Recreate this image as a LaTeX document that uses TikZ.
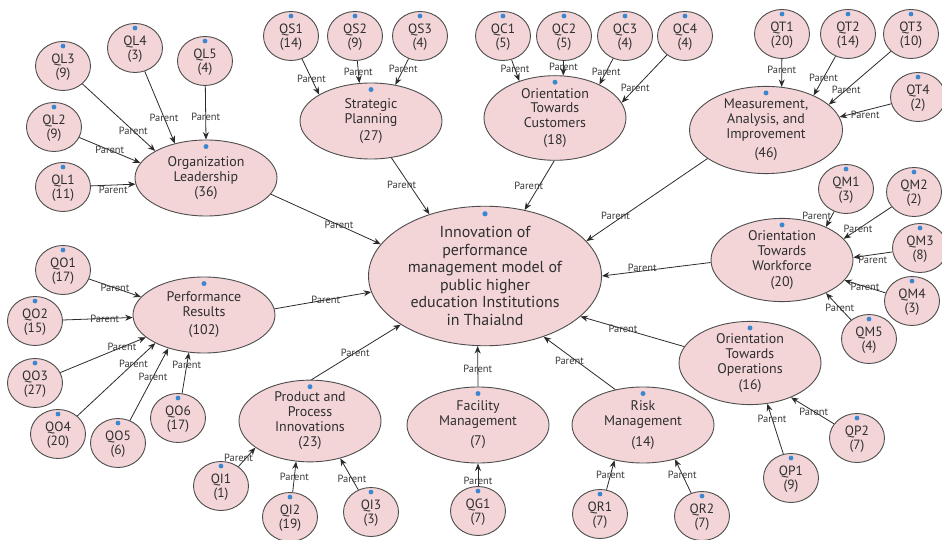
\documentclass[tikz,border=0pt]{standalone}
\usepackage{fontspec}
\setmainfont{PT Sans}
\usetikzlibrary{shapes.geometric,arrows.meta}
\definecolor{pinkc}{HTML}{F3D5D8}
\definecolor{bordc}{HTML}{4D4D4D}
\definecolor{txtc}{HTML}{2E2E2E}
\definecolor{linec}{HTML}{2B2B2B}
\definecolor{dotc}{HTML}{3B86D0}
\definecolor{labc}{HTML}{3A3A3A}
\tikzset{
  sm/.style={ellipse, draw=bordc, fill=pinkc, line width=0.9pt, minimum width=55bp, minimum height=49bp, inner sep=0pt, align=center, text=txtc, font=\fontsize{13.5}{15}\selectfont},
  big/.style={sm, minimum width=142bp, minimum height=76bp, font=\fontsize{14}{15}\selectfont},
  edge/.style={draw=linec, line width=0.8pt, -{Stealth[length=7.5bp,width=6bp]}},
  lab/.style={font=\fontsize{10.5}{12}\selectfont, text=labc, inner sep=1pt},
}
\begin{document}
\begin{tikzpicture}[x=1bp,y=-1bp]
\useasboundingbox (0,0) rectangle (942,540);
\fill[white] (0,0) rectangle (942,540);

% Organization leadership
\node[sm] (QL3) at (63,66) {\rule{0pt}{12pt}QL3\\(9)};
\node[sm] (QL4) at (135,48) {\rule{0pt}{12pt}QL4\\(3)};
\node[sm] (QL5) at (205,61) {\rule{0pt}{12pt}QL5\\(4)};
\node[sm] (QL2) at (54,127) {\rule{0pt}{12pt}QL2\\(9)};
\node[sm] (QL1) at (63,187) {\rule{0pt}{12pt}QL1\\(11)};
\node[big] (OL) at (206,178) {Organization\\Leadership\\(36)};

% Strategic planning
\node[sm] (QS1) at (291,36) {\rule{0pt}{12pt}QS1\\(14)};
\node[sm] (QS2) at (355,36) {\rule{0pt}{12pt}QS2\\(9)};
\node[sm] (QS3) at (420,36) {\rule{0pt}{12pt}QS3\\(4)};
\node[big] (SP) at (371,121) {Strategic\\Planning\\[2pt](27)};

% Customers
\node[sm] (QC1) at (503,36) {\rule{0pt}{12pt}QC1\\(5)};
\node[sm] (QC2) at (564,36) {\rule{0pt}{12pt}QC2\\(5)};
\node[sm] (QC3) at (625,36) {\rule{0pt}{12pt}QC3\\(4)};
\node[sm] (QC4) at (685,36) {\rule{0pt}{12pt}QC4\\(4)};
\node[big] (OTC) at (555,118) {Orientation\\Towards\\Customers\\[2pt](18)};

% Measurement
\node[sm] (QT1) at (782,34) {\rule{0pt}{12pt}QT1\\(20)};
\node[sm] (QT2) at (848,34) {\rule{0pt}{12pt}QT2\\(14)};
\node[sm] (QT3) at (911,34) {\rule{0pt}{12pt}QT3\\(10)};
\node[sm] (QT4) at (918,97) {\rule{0pt}{12pt}QT4\\(2)};
\node[big, minimum width=153bp, minimum height=86bp] (MAI) at (766,130) {Measurement,\\Analysis, and\\Improvement\\[4pt](46)};

% Workforce
\node[sm] (QM1) at (846,189) {\rule{0pt}{12pt}QM1\\(3)};
\node[sm] (QM2) at (914,192) {\rule{0pt}{12pt}QM2\\(2)};
\node[sm] (QM3) at (920,248) {\rule{0pt}{12pt}QM3\\(8)};
\node[sm] (QM4) at (912,301) {\rule{0pt}{12pt}QM4\\(3)};
\node[sm] (QM5) at (869,339) {\rule{0pt}{12pt}QM5\\(4)};
\node[big] (OTW) at (782,260) {Orientation\\Towards\\Workforce\\[1pt](20)};

% Operations
\node[sm] (QP1) at (791,478) {\rule{0pt}{12pt}QP1\\(9)};
\node[sm] (QP2) at (857,438) {\rule{0pt}{12pt}QP2\\(7)};
\node[big] (OTO) at (750,363) {Orientation\\Towards\\Operations\\[1pt](16)};

% Risk
\node[sm] (QR1) at (600,514) {\rule{0pt}{12pt}QR1\\(7)};
\node[sm] (QR2) at (702,516) {\rule{0pt}{12pt}QR2\\(7)};
\node[big] (RM) at (643,425) {Risk\\Management\\[6pt](14)};

% Facility
\node[sm] (QG1) at (478,511) {\rule{0pt}{12pt}QG1\\(7)};
\node[big] (FM) at (478,425) {Facility\\Management\\[5pt](7)};

% Performance results
\node[sm] (QO1) at (63,270) {\rule{0pt}{12pt}QO1\\(17)};
\node[sm] (QO2) at (35,321) {\rule{0pt}{12pt}QO2\\(15)};
\node[sm] (QO3) at (35,383) {\rule{0pt}{12pt}QO3\\(27)};
\node[sm] (QO4) at (58,434) {\rule{0pt}{12pt}QO4\\(20)};
\node[sm] (QO5) at (118,443) {\rule{0pt}{12pt}QO5\\(6)};
\node[sm] (QO6) at (178,418) {\rule{0pt}{12pt}QO6\\(17)};
\node[big] (PR) at (204,315) {Performance\\Results\\[3pt](102)};

% Product and process
\node[sm] (QI1) at (221,486) {\rule{0pt}{12pt}QI1\\(1)};
\node[sm] (QI2) at (290,517) {\rule{0pt}{12pt}QI2\\(19)};
\node[sm] (QI3) at (371,512) {\rule{0pt}{12pt}QI3\\(3)};
\node[big] (PPI) at (310,421) {Product and\\Process\\Innovations\\(23)};

% Center
\node[big, minimum width=233bp, minimum height=126bp, font=\fontsize{16}{17.5}\selectfont] (C) at (485,276) {Innovation of\\performance\\management model of\\public higher\\education Institutions\\in Thaialnd};

% blue dots
\foreach \n in {QL1,QL2,QL3,QL4,QL5,QS1,QS2,QS3,QC1,QC2,QC3,QC4,QT1,QT2,QT3,QT4,QM1,QM2,QM3,QM4,QM5,QP1,QP2,QR1,QR2,QG1,QO1,QO2,QO3,QO4,QO5,QO6,QI1,QI2,QI3}
  \fill[dotc] ([yshift=-5bp]\n.north) circle[radius=2.4bp];
\foreach \n in {OL,SP,OTC,MAI,OTW,OTO,RM,FM,PR,PPI}
  \fill[dotc] ([yshift=-7bp]\n.north) circle[radius=2.5bp];
\fill[dotc] ([yshift=-8bp]C.north) circle[radius=2.6bp];

% child edges
\draw[edge] (QL1) -- node[lab,pos=.5,below]{Parent} (OL.185);
\draw[edge] (QL2) -- node[lab,pos=.5]{Parent} (OL.167);
\draw[edge] (QL3) -- node[lab,pos=.7]{Parent} (OL.152);
\draw[edge] (QL4) -- node[lab,pos=.64]{Parent} (OL.132);
\draw[edge] (QL5) -- node[lab,pos=.58]{Parent} (OL.90);

\draw[edge] (QS1) -- node[lab,pos=.55]{Parent} (SP.153);
\draw[edge] (QS2) -- node[lab,pos=.5]{Parent} (SP.107);
\draw[edge] (QS3) -- node[lab,pos=.4]{Parent} (SP.56);

\draw[edge] (QC1) -- node[lab,pos=.45]{Parent} (OTC.134);
\draw[edge] (QC2) -- node[lab,pos=.4]{Parent} (OTC.79);
\draw[edge] (QC3) -- node[lab,pos=.5]{Parent} (OTC.37);
\draw[edge] (QC4) -- node[lab,pos=.7]{Parent} (OTC.13);

\draw[edge] (QT1) -- node[lab,pos=.4]{Parent} (MAI.70);
\draw[edge] (QT2) -- node[lab,pos=.55]{Parent} (MAI.36);
\draw[edge] (QT3) -- node[lab,pos=.72]{Parent} (MAI.22);
\draw[edge] (QT4) -- node[lab,pos=.5,yshift=-4bp]{Parent} (MAI.10);

\draw[edge] (QM1) -- node[lab,pos=.3,left,inner sep=0pt]{Parent} (OTW.37);
\draw[edge] (QM2) -- node[lab,pos=.7]{Parent} (OTW.19);
\draw[edge] (QM3) -- node[lab,pos=.5,below]{Parent} (OTW.2);
\draw[edge] (QM4) -- node[lab,pos=.5]{Parent} (OTW.-18);
\draw[edge] (QM5) -- node[lab,pos=.45]{Parent} (OTW.-37);

\draw[edge] (QP1) -- node[lab,pos=.7]{Parent} (OTO.-67);
\draw[edge] (QP2) -- node[lab,pos=.47]{Parent} (OTO.-40);

\draw[edge] (QR1) -- node[lab,pos=.5]{Parent} (RM.-129);
\draw[edge] (QR2) -- node[lab,pos=.55]{Parent} (RM.-47);

\draw[edge] (QG1) -- node[lab,pos=.25]{Parent} (FM.-90);

\draw[edge] (QO1) -- node[lab,pos=.5]{Parent} (PR.164);
\draw[edge] (QO2) -- node[lab,pos=.6]{Parent} (PR.182);
\draw[edge] (QO3) -- node[lab,pos=.72]{Parent} (PR.201);
\draw[edge] (QO4) -- node[lab,pos=.72]{Parent} (PR.210);
\draw[edge] (QO5) -- node[lab,pos=.6]{Parent} (PR.223);
\draw[edge] (QO6) -- node[lab,pos=.7]{Parent} (PR.248);

\draw[edge] (QI1) -- node[lab,pos=.3,xshift=-5bp,yshift=3bp]{Parent} (PPI.206);
\draw[edge] (QI2) -- node[lab,pos=.5]{Parent} (PPI.251);
\draw[edge] (QI3) -- node[lab,pos=.35]{Parent} (PPI.-51);

% dimension edges to center
\draw[edge] (OL.-14) -- node[lab,pos=.62]{Parent} (C.163);
\draw[edge] (SP.-61) -- node[lab,pos=.48,xshift=-8bp]{Parent} (C.132);
\draw[edge] (OTC.-91) -- node[lab,pos=.52,xshift=-10bp]{Parent} (C.59);
\draw[edge] (MAI.206) -- node[lab,pos=.76,above]{Parent} (C.19);
\draw[edge] (OTW.182) -- node[lab,pos=.63,yshift=3bp]{Parent} (C.0);
\draw[edge] (OTO.166) -- node[lab,pos=.59]{Parent} (C.-23);
\draw[edge] (RM.128) -- node[lab,pos=.64,below]{Parent} (C.-46);
\draw[edge] (FM.90) -- node[lab,pos=.44]{Parent} (C.-96);
\draw[edge] (PPI.88) -- node[lab,pos=.49]{Parent} (C.210);
\draw[edge] (PR.5) -- node[lab,pos=.53]{Parent} (C.188);
\end{tikzpicture}
\end{document}
